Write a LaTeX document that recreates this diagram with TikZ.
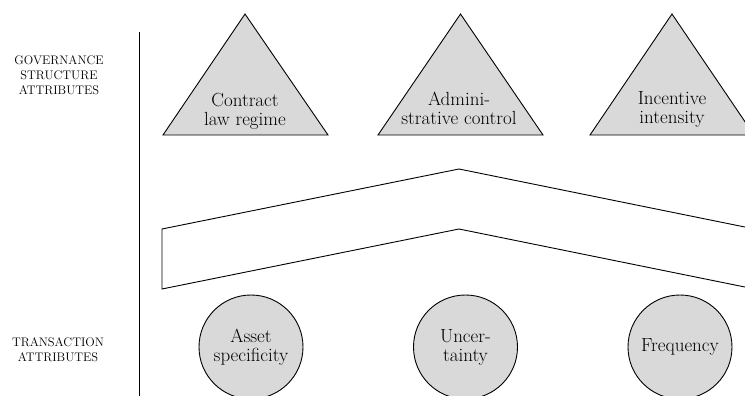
\documentclass[tikz,border=0pt]{standalone}
\definecolor{attrgray}{gray}{0.85}
\begin{document}
\begin{tikzpicture}[x=1pt,y=-1pt,
  outline/.style={draw=black, line width=0.9pt},
  attrshape/.style={outline, fill=attrgray},
  trilabel/.style={font=\fontsize{19}{19}\selectfont, align=center, inner sep=0pt},
  attrcircle/.style={attrshape, circle, minimum size=104pt, inner sep=0pt,
    align=center, font=\fontsize{19}{19}\selectfont},
  sidelabel/.style={font=\fontsize{12.4}{15}\selectfont, align=center, inner sep=0pt}]
\useasboundingbox (0,0) rectangle (745,396);

% side labels and the dividing rule
\node[sidelabel] (govlabel) at (59,75) {GOVERNANCE\\STRUCTURE\\ATTRIBUTES};
\node[sidelabel] (trlabel) at (58,350) {TRANSACTION\\ATTRIBUTES};
\coordinate (ruletop) at (139,32);
\coordinate (rulebot) at (139,396);
\draw[line width=1pt] (ruletop) -- (rulebot);

\begin{scope}
\clip (0,0) rectangle (745,396);

% governance structure attributes: triangles
\coordinate (ta-top) at (245,14);   \coordinate (ta-l) at (163,135);   \coordinate (ta-r) at (328,135);
\coordinate (tb-top) at (460.5,14); \coordinate (tb-l) at (378,135);   \coordinate (tb-r) at (543,135);
\coordinate (tc-top) at (672,14);   \coordinate (tc-l) at (590,135);   \coordinate (tc-r) at (754,135);
\path[attrshape] (ta-top) -- (ta-l) -- (ta-r) -- cycle;
\path[attrshape] (tb-top) -- (tb-l) -- (tb-r) -- cycle;
\path[attrshape] (tc-top) -- (tc-l) -- (tc-r) -- cycle;
\node[trilabel] (contract) at (245,111) {Contract\\law regime};
\node[trilabel] (admin) at (459,108.5) {Admini-\\strative control};
\node[trilabel] (incentive) at (672,109.5) {Incentive\\intensity};

% the bent band between the two rows
\coordinate (bu-r) at (800,238.2);
\coordinate (bu-m) at (459,169);
\coordinate (bu-l) at (162,229);
\coordinate (bl-l) at (162,289);
\coordinate (bl-m) at (459,229);
\coordinate (bl-r) at (800,298.2);
\draw[outline, line join=miter] (bu-r) -- (bu-m) -- (bu-l) -- (bl-l) -- (bl-m) -- (bl-r);

% transaction attributes: circles
\node[attrcircle] (asset) at (251,347) {Asset\\specificity};
\node[attrcircle] (uncert) at (465.5,347) {Uncer-\\tainty};
\node[attrcircle] (freq) at (680,347) {Frequency};
\end{scope}
\end{tikzpicture}
\end{document}
